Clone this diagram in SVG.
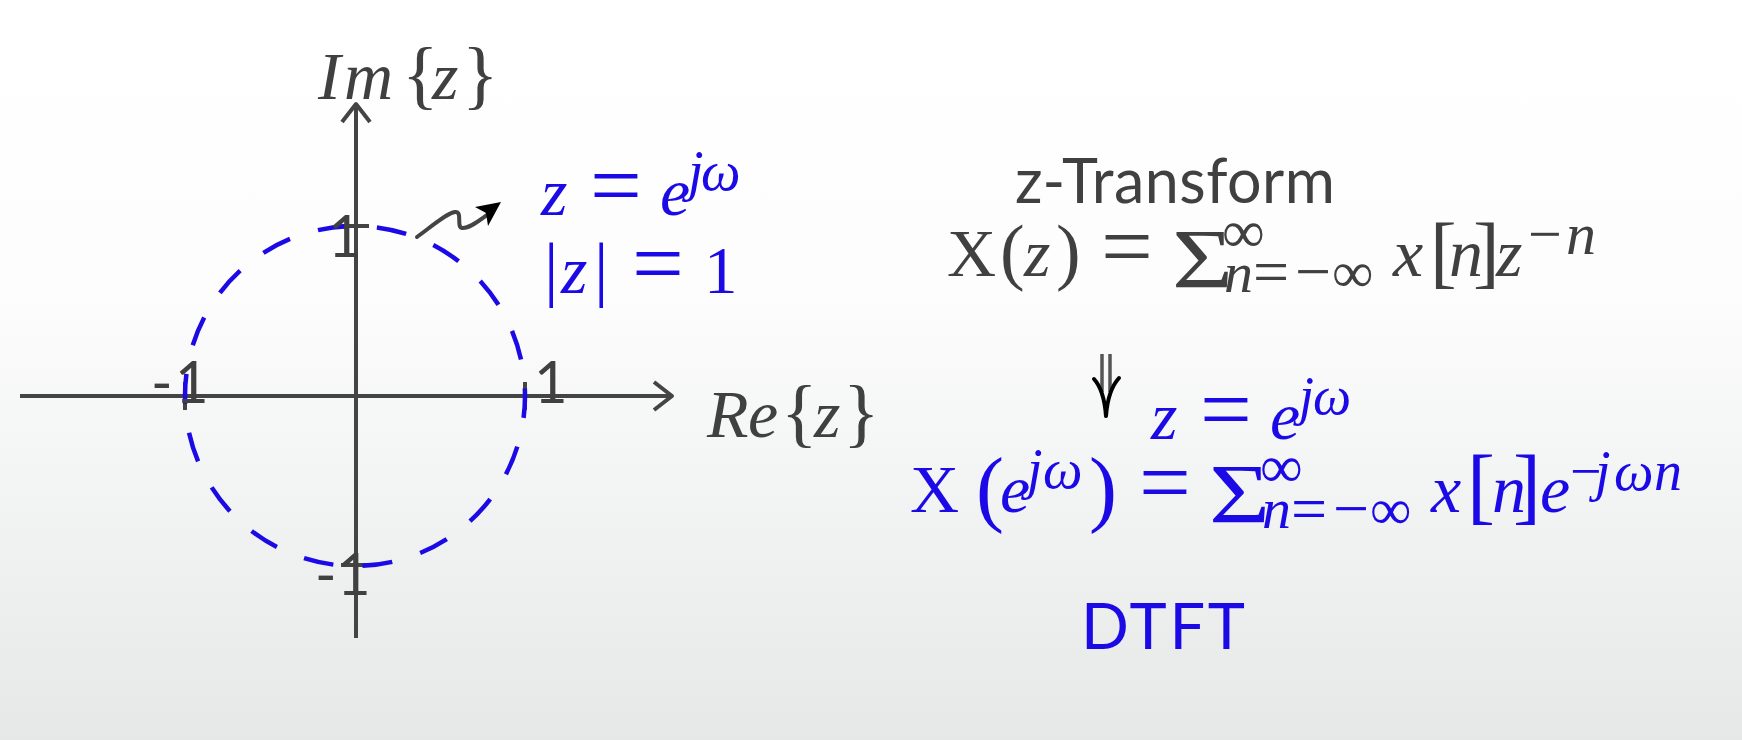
<svg xmlns="http://www.w3.org/2000/svg" width="1742" height="740" viewBox="0 0 1742 740">
<defs>
<linearGradient id="bg" x1="0" y1="0" x2="0" y2="1">
<stop offset="0" stop-color="#ffffff"/>
<stop offset="0.38" stop-color="#fdfdfd"/>
<stop offset="1" stop-color="#e6e8e8"/>
</linearGradient>
<style>
.ax{stroke:#444;stroke-width:4;fill:none;stroke-linejoin:round}
.m{font-family:"Liberation Serif","Times New Roman",serif}
.i{font-style:italic}
.s{font-family:Lato,"Noto Sans",sans-serif}
.g{fill:#404040}
.b{fill:#1c0ae6}
</style>
</defs>
<rect x="0" y="0" width="1742" height="740" fill="url(#bg)"/>

<g id="connectors">
<path class="ax" d="M20,396 H671"/>
<path class="ax" d="M654,382 L672,396 L654,410"/>
<path class="ax" d="M356,638 V105"/>
<path class="ax" d="M342,122 L356,104 L370,122"/>
<path class="ax" d="M341,226 H369 M341,565 H369 M185,382 V410 M525,382 V410"/>
<path d="M417,237 C432,226 447,213 455,212 C463,211 456,227 462,228 C470,229 481,219 490,213" stroke="#444" stroke-width="4" fill="none" stroke-linecap="round"/>
<polygon points="501,202 475,207 486,213 488,226" fill="#000"/>
<path d="M1102,354 V392 M1110,354 V392" stroke="#555" stroke-width="3.5" fill="none"/>
<path d="M1094,379 Q1104,390 1106,416 Q1108,390 1119,378" stroke="#000" stroke-width="4" fill="none" stroke-linecap="round" stroke-linejoin="round"/>
</g>

<g id="unit-circle">
<circle cx="355" cy="396" r="170" fill="none" stroke="#1c0ae6" stroke-width="4.5" stroke-dasharray="30 29.34" stroke-dashoffset="8"/>
</g>

<g id="tick-labels" class="s g" font-size="58">
<text x="328" y="257">1</text>
<text y="403"><tspan x="151">-</tspan><tspan x="175">1</tspan></text>
<text x="534" y="403">1</text>
<text y="595"><tspan x="315">-</tspan><tspan x="337">1</tspan></text>
</g>

<g id="axis-im" class="m g" font-size="68">
<text y="99"><tspan class="i" x="318">I</tspan><tspan class="i" x="344">m</tspan><tspan x="402" font-size="76" y="100">{</tspan><tspan class="i" x="432" y="99">z</tspan><tspan x="462" font-size="76" y="100">}</tspan></text>
</g>

<g id="axis-re" class="m g" font-size="68">
<text y="437"><tspan class="i" x="707">R</tspan><tspan class="i" x="748">e</tspan><tspan x="781" font-size="76" y="438">{</tspan><tspan class="i" x="814" y="437">z</tspan><tspan x="843" font-size="76" y="438">}</tspan></text>
</g>

<g id="unit-circle-label" class="m b" font-size="68">
<text y="215"><tspan class="i" x="541">z</tspan><tspan x="590" font-size="92" y="216">=</tspan><tspan class="i" x="660" y="215">e</tspan><tspan class="i" x="688" font-size="56" y="190">j</tspan><tspan class="i" x="701" font-size="56" y="190">ω</tspan></text>
<text y="293"><tspan x="544" font-size="72">|</tspan><tspan class="i" x="561">z</tspan><tspan x="594" font-size="72">|</tspan><tspan x="632" font-size="92" y="294">=</tspan><tspan x="704" font-size="67" y="293">1</tspan></text>
</g>

<g id="z-transform">
<text class="s g" x="1015" y="203" font-size="61" textLength="320" lengthAdjust="spacing">z-Transform</text>
<text class="m g" font-size="68" y="276"><tspan x="947">X</tspan><tspan x="1000" font-size="74">(</tspan><tspan class="i" x="1024">z</tspan><tspan x="1056" font-size="74">)</tspan><tspan x="1101" font-size="92" y="277">=</tspan><tspan x="1222" font-size="60" y="252">∞</tspan><tspan class="i" x="1224" font-size="58" y="292">n</tspan><tspan x="1253" font-size="64" y="293">=</tspan><tspan x="1295" font-size="64" y="293">−</tspan><tspan x="1332" font-size="58" y="292">∞</tspan><tspan class="i" x="1393" y="276">x</tspan><tspan x="1430" font-size="80" y="278">[</tspan><tspan class="i" x="1449" y="276">n</tspan><tspan x="1473" font-size="80" y="278">]</tspan><tspan class="i" x="1496" y="276">z</tspan><tspan x="1528" font-size="60" y="254">−</tspan><tspan class="i" x="1566" font-size="60" y="254">n</tspan></text>
<text class="m g" font-size="84" transform="translate(1172,288) scale(1.25,1)">Σ</text>
</g>

<g id="substitution" class="m b" font-size="68">
<text y="439"><tspan class="i" x="1151">z</tspan><tspan x="1200" font-size="92" y="440">=</tspan><tspan class="i" x="1270" y="439">e</tspan><tspan class="i" x="1299" font-size="54" y="414">j</tspan><tspan class="i" x="1313" font-size="54" y="414">ω</tspan></text>
</g>

<g id="dtft">
<text class="m b" font-size="68" y="512"><tspan x="910">X</tspan><tspan x="976" font-size="84" y="516">(</tspan><tspan class="i" x="1000" y="512">e</tspan><tspan class="i" x="1027" font-size="56" y="488">j</tspan><tspan class="i" x="1043" font-size="56" y="488">ω</tspan><tspan x="1089" font-size="84" y="516">)</tspan><tspan x="1139" font-size="92" y="513">=</tspan><tspan x="1260" font-size="60" y="487">∞</tspan><tspan class="i" x="1262" font-size="58" y="528">n</tspan><tspan x="1291" font-size="64" y="530">=</tspan><tspan x="1333" font-size="64" y="530">−</tspan><tspan x="1370" font-size="58" y="529">∞</tspan><tspan class="i" x="1431" y="512">x</tspan><tspan x="1467" font-size="84" y="514">[</tspan><tspan class="i" x="1492" y="512">n</tspan><tspan x="1513" font-size="84" y="514">]</tspan><tspan class="i" x="1540" y="512">e</tspan><tspan x="1570" font-size="56" y="490">−</tspan><tspan class="i" x="1595" font-size="56" y="490">j</tspan><tspan class="i" x="1614" font-size="56" y="490">ω</tspan><tspan class="i" x="1654" font-size="56" y="490">n</tspan></text>
<text class="m b" font-size="84" transform="translate(1209,523) scale(1.25,1)">Σ</text>
<text class="s b" x="1081" y="649" font-size="63" textLength="164" lengthAdjust="spacing">DTFT</text>
</g>
</svg>
